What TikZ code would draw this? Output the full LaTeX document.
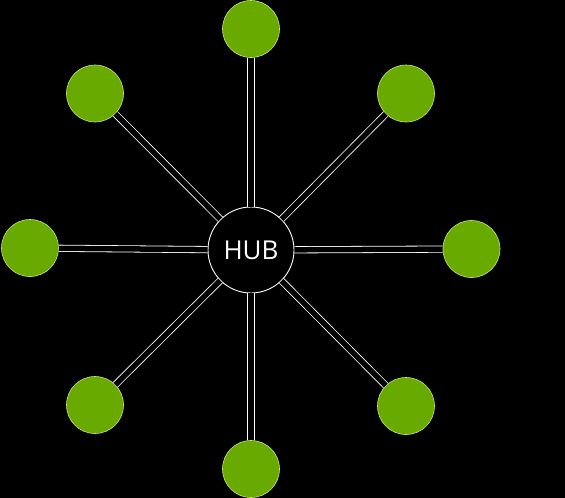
\documentclass[tikz,border=0pt]{standalone}
\usepackage{fontspec}
\setmainfont{Open Sans}
\definecolor{leaf}{RGB}{104,170,0}
\definecolor{leafedge}{RGB}{200,230,120}
\begin{document}
\begin{tikzpicture}[x=1pt,y=-1pt,
  spoke/.style={draw=white,line width=0.8pt,double=black,double distance=5.5pt},
  leafnode/.style={circle,fill=leaf,draw=leafedge,line width=0.6pt,minimum size=57pt,inner sep=0pt},
  hubnode/.style={circle,fill=black,draw=white,line width=0.9pt,minimum size=86pt,inner sep=0pt,text=white,font=\fontsize{26}{30}\selectfont}]
\fill[black] (0,0) rectangle (565,498);
\useasboundingbox (0,0) rectangle (565,498);
\node[hubnode] (hub) at (251,250) {HUB};
\node[leafnode] (t)  at (251,29) {};
\node[leafnode] (tr) at (406,93.5) {};
\node[leafnode] (r)  at (471.5,249) {};
\node[leafnode] (br) at (406,406) {};
\node[leafnode] (b)  at (251,469) {};
\node[leafnode] (bl) at (95,405) {};
\node[leafnode] (l)  at (30,248) {};
\node[leafnode] (tl) at (95,93.5) {};
\foreach \n in {t,tr,r,br,b,bl,l,tl}{
  \draw[spoke] (hub) -- (\n);
}
\end{tikzpicture}
\end{document}
